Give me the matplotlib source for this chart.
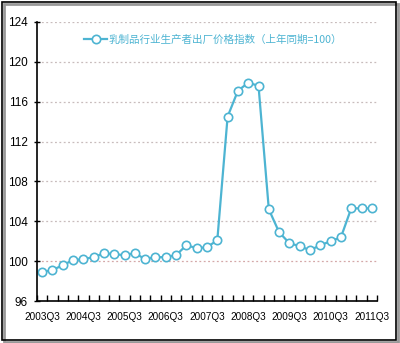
import matplotlib
matplotlib.use('Agg')
import matplotlib.pyplot as plt
from matplotlib.patches import Rectangle
from matplotlib.ticker import FixedLocator, NullFormatter

plt.rcParams['font.family'] = ['Liberation Sans', 'Noto Sans CJK SC', 'DejaVu Sans']

# quarterly data, 2003Q3 .. 2011Q3
quarters = [f'{y}Q{q}' for y in range(2003, 2012) for q in range(1, 5)][2:35]
index_values = [
    98.9, 99.1, 99.6, 100.1, 100.2, 100.4, 100.8, 100.7, 100.6, 100.8,
    100.2, 100.4, 100.4, 100.6, 101.6, 101.3, 101.4, 102.1, 114.5, 117.1,
    117.9, 117.6, 105.2, 102.9, 101.8, 101.5, 101.1, 101.6, 102.0, 102.4,
    105.3, 105.3, 105.3,
]
series_label = '乳制品行业生产者出厂价格指数（上年同期=100）'
y_ticks = [96, 100, 104, 108, 112, 116, 120, 124]

line_color = '#4db4d2'

fig = plt.figure(figsize=(4.0, 3.43), dpi=100)
ax = fig.add_axes([0.0925, 0.1224, 0.85, 0.8135])

x = list(range(len(index_values)))
ax.plot(x, index_values, color=line_color, lw=1.6, marker='o', ms=6,
        mfc='white', mec=line_color, mew=1.2, label=series_label)

ax.set_xlim(-0.5, len(index_values) - 0.5)
ax.set_ylim(96, 124)
ax.set_yticks(y_ticks)
ax.set_yticklabels([str(v) for v in y_ticks], fontsize=8.5)

label_pos = [i for i in x if i % 4 == 0]
ax.set_xticks(label_pos)
ax.set_xticklabels([quarters[i] for i in label_pos], fontsize=7.2)
ax.xaxis.set_minor_locator(FixedLocator([i - 0.5 for i in range(len(index_values) + 1)]))
ax.xaxis.set_minor_formatter(NullFormatter())
ax.tick_params(axis='x', which='major', length=0, pad=8)
ax.tick_params(axis='x', which='minor', direction='in', length=4, width=1)
ax.tick_params(axis='y', direction='inout', length=5, width=1, pad=4)

for v in y_ticks[1:]:
    ax.axhline(v, color='#c8bcbc' if v != 100 else '#d4a8a8', lw=0.9,
               ls=(0, (1.5, 2)), zorder=0)

for s in ['top', 'right']:
    ax.spines[s].set_visible(False)
for s in ['left', 'bottom']:
    ax.spines[s].set_linewidth(1.2)

leg = ax.legend(loc='upper left', bbox_to_anchor=(0.11, 0.99), frameon=False,
                handlelength=2.2, handletextpad=0.1, labelcolor=line_color,
                prop={'family': ['Noto Sans CJK SC', 'DejaVu Sans'], 'size': 7.6})

# outer frame with a light shadow
fig.patches.append(Rectangle((4 / 400, 1 / 343), 394 / 400, 338 / 343,
                             transform=fig.transFigure, fill=False,
                             ec='#999999', lw=2.0))
fig.patches.append(Rectangle((2 / 400, 3 / 343), 394 / 400, 338 / 343,
                             transform=fig.transFigure, fill=False,
                             ec='black', lw=1.2))

fig.savefig('out.png', dpi=100)
